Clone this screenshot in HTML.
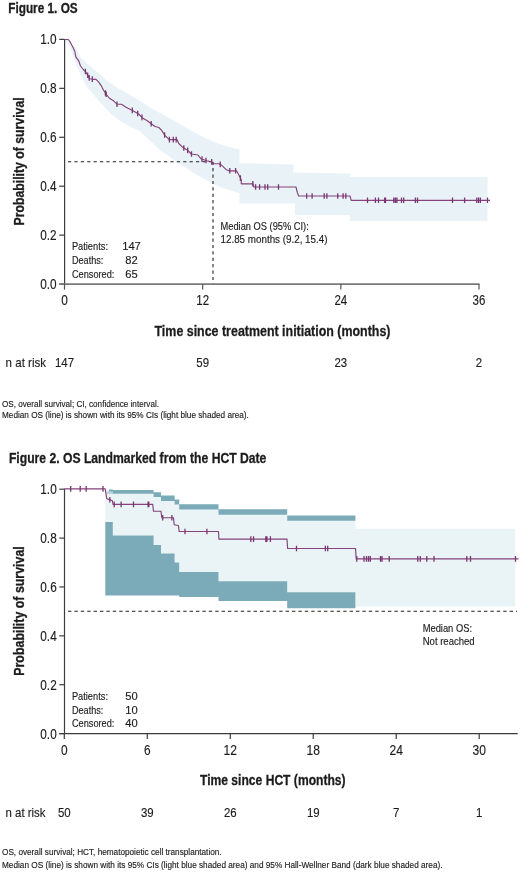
<!DOCTYPE html>
<html><head><meta charset="utf-8"><style>
html,body{margin:0;padding:0;background:#fff;width:520px;height:874px;overflow:hidden}
svg{display:block;will-change:transform}
</style></head><body>
<svg width="520" height="874" viewBox="0 0 520 874" font-family='"Liberation Sans", sans-serif'>
<rect width="520" height="874" fill="#fff"/>
<polygon points="64.5,39.5 69,40.5 75,47.5 80.5,57 88,64.5 95.5,70.5 106,80 117,87.5 129,94.6 140,101 150,107.5 162,114 174,120.6 188,129 205,138 222,145 239.5,149.5 239.5,163.2 293.5,164.5 293.5,172.5 350,173.5 350,177 487.5,177 487.5,221 350,221 350,215 295,215 295,203.5 239.5,203.5 239.5,193.3 222.7,188 214,184.5 205.4,179.4 195,174 184.6,167 176,161.5 167.3,155 160,150.5 153.5,144 146,137 139.6,131 128,125.5 118.8,120 112,115 105,107.5 98,100 91,91.5 87,87 81,76 75.5,63 69,45" fill="#e9f3f7"/>
<line x1="65" y1="161.7" x2="213" y2="161.7" stroke="#222" stroke-width="1.1" stroke-dasharray="3.2,3.2" stroke-dashoffset="-3"/>
<line x1="213" y1="161.7" x2="213" y2="284" stroke="#222" stroke-width="1.1" stroke-dasharray="3.2,3.2"/>
<polyline points="64.5,39.5 68.3,39.5 70.1,41.8 73,47.5 74.7,51 75.8,56.8 78.7,60.8 80.5,66 83.3,69.5 85.7,71.8 88,75.8 89.7,78.8 93.2,79.3 96,79.3 98.3,81.6 101.2,85.6 103.5,90.2 106.4,94.5 109.2,98 113,100.4 117,104.2 121.5,104.2 126,107.3 130,109.2 133.8,111.2 138.7,114 142.5,117.9 147.3,120.8 151.2,123.7 155,126.5 158.8,127.5 161.7,130.4 164.4,134.8 169.2,139.6 177,139.6 178.8,143.5 182.7,147.3 187.5,150.2 191.3,154 198,155 201,158.8 206.7,160.8 211.5,161.7 213.5,163.7 219.2,163.7 222,165.6 226,169.4 228.8,170.8 236.5,170.8 239.4,176 241.3,180 241.3,183.8 252.9,183.8 253.8,187 296,187 297.3,192.5 298.7,196 350,196 351.2,200.3 490,200.3" fill="none" stroke="#84437a" stroke-width="1.15" stroke-linejoin="round"/>
<path d="M85.4,68.71v5.6M87.7,72.48v5.6M89.2,75.12v5.6M92.3,76.37v5.6M105.4,90.22v5.6M106.2,91.4v5.6M117,101.4v5.6M132.3,107.61v5.6M137.7,110.63v5.6M142,114.59v5.6M151.2,120.9v5.6M164.6,132.2v5.6M169.4,136.8v5.6M173.3,136.8v5.6M176.2,136.8v5.6M183.8,145.16v5.6M187.7,147.6v5.6M191.5,151.23v5.6M202,156.35v5.6M206,157.75v5.6M211.7,159.1v5.6M220.2,161.58v5.6M229.8,168v5.6M235.6,168v5.6M240.4,175.31v5.6M252.9,181v5.6M255.6,184.2v5.6M259.6,184.2v5.6M265,184.2v5.6M267.7,184.2v5.6M278.5,184.2v5.6M306.7,193.2v5.6M312.1,193.2v5.6M324.2,193.2v5.6M326.9,193.2v5.6M337.7,193.2v5.6M343.1,193.2v5.6M345.8,193.2v5.6M367.5,197.5v5.6M375.4,197.5v5.6M378.5,197.5v5.6M384.6,197.5v5.6M385.5,197.5v5.6M393.8,197.5v5.6M395.4,197.5v5.6M396.9,197.5v5.6M401.5,197.5v5.6M403.7,197.5v5.6M415.4,197.5v5.6M417.5,197.5v5.6M452.5,197.5v5.6M464.6,197.5v5.6M476.8,197.5v5.6M478.6,197.5v5.6M480.4,197.5v5.6M487.5,197.5v5.6" stroke="#7a3672" stroke-width="1.3" fill="none"/>
<line x1="64.6" y1="39.4" x2="64.6" y2="284.1" stroke="#3c3c3c" stroke-width="1.2"/>
<line x1="59.2" y1="284.1" x2="64.6" y2="284.1" stroke="#3c3c3c" stroke-width="1.2"/>
<text x="56.6" y="289.1" font-size="14.5" stroke="#1c1c1c" stroke-width="0.15" text-anchor="end" textLength="16.4" lengthAdjust="spacingAndGlyphs" fill="#1c1c1c">0.0</text>
<line x1="59.2" y1="235.16" x2="64.6" y2="235.16" stroke="#3c3c3c" stroke-width="1.2"/>
<text x="56.6" y="240.16" font-size="14.5" stroke="#1c1c1c" stroke-width="0.15" text-anchor="end" textLength="16.4" lengthAdjust="spacingAndGlyphs" fill="#1c1c1c">0.2</text>
<line x1="59.2" y1="186.22" x2="64.6" y2="186.22" stroke="#3c3c3c" stroke-width="1.2"/>
<text x="56.6" y="191.22" font-size="14.5" stroke="#1c1c1c" stroke-width="0.15" text-anchor="end" textLength="16.4" lengthAdjust="spacingAndGlyphs" fill="#1c1c1c">0.4</text>
<line x1="59.2" y1="137.28" x2="64.6" y2="137.28" stroke="#3c3c3c" stroke-width="1.2"/>
<text x="56.6" y="142.28" font-size="14.5" stroke="#1c1c1c" stroke-width="0.15" text-anchor="end" textLength="16.4" lengthAdjust="spacingAndGlyphs" fill="#1c1c1c">0.6</text>
<line x1="59.2" y1="88.34" x2="64.6" y2="88.34" stroke="#3c3c3c" stroke-width="1.2"/>
<text x="56.6" y="93.34" font-size="14.5" stroke="#1c1c1c" stroke-width="0.15" text-anchor="end" textLength="16.4" lengthAdjust="spacingAndGlyphs" fill="#1c1c1c">0.8</text>
<line x1="59.2" y1="39.4" x2="64.6" y2="39.4" stroke="#3c3c3c" stroke-width="1.2"/>
<text x="56.6" y="44.4" font-size="14.5" stroke="#1c1c1c" stroke-width="0.15" text-anchor="end" textLength="16.4" lengthAdjust="spacingAndGlyphs" fill="#1c1c1c">1.0</text>
<line x1="59.2" y1="284.1" x2="479.4" y2="284.1" stroke="#7a7a7a" stroke-width="1.8"/>
<line x1="64.5" y1="284" x2="64.5" y2="289.6" stroke="#555" stroke-width="1.2"/>
<text x="64.5" y="305" font-size="14.8" stroke="#1c1c1c" stroke-width="0.15" text-anchor="middle" textLength="6.6" lengthAdjust="spacingAndGlyphs" fill="#1c1c1c">0</text>
<line x1="202.67" y1="284" x2="202.67" y2="289.6" stroke="#555" stroke-width="1.2"/>
<text x="202.67" y="305" font-size="14.8" stroke="#1c1c1c" stroke-width="0.15" text-anchor="middle" textLength="12.8" lengthAdjust="spacingAndGlyphs" fill="#1c1c1c">12</text>
<line x1="340.84" y1="284" x2="340.84" y2="289.6" stroke="#555" stroke-width="1.2"/>
<text x="340.84" y="305" font-size="14.8" stroke="#1c1c1c" stroke-width="0.15" text-anchor="middle" textLength="12.8" lengthAdjust="spacingAndGlyphs" fill="#1c1c1c">24</text>
<line x1="479" y1="284" x2="479" y2="289.6" stroke="#555" stroke-width="1.2"/>
<text x="479" y="305" font-size="14.8" stroke="#1c1c1c" stroke-width="0.15" text-anchor="middle" textLength="12.8" lengthAdjust="spacingAndGlyphs" fill="#1c1c1c">36</text>
<text x="8.2" y="13.1" font-size="14.5" font-weight="bold" stroke="#1c1c1c" stroke-width="0.3" textLength="69.5" lengthAdjust="spacingAndGlyphs" fill="#1c1c1c">Figure 1. OS</text>
<g transform="translate(23.7,161.4) rotate(-90)"><text x="0" y="0" font-size="14.6" font-weight="bold" stroke="#1c1c1c" stroke-width="0.3" text-anchor="middle" textLength="128" lengthAdjust="spacingAndGlyphs" fill="#1c1c1c">Probability of survival</text></g>
<text x="154.5" y="335.5" font-size="15.2" font-weight="bold" stroke="#1c1c1c" stroke-width="0.3" textLength="236" lengthAdjust="spacingAndGlyphs" fill="#1c1c1c">Time since treatment initiation (months)</text>
<text x="71.9" y="250.4" font-size="11.2" stroke="#1c1c1c" stroke-width="0.15" textLength="36.1" lengthAdjust="spacingAndGlyphs" fill="#1c1c1c">Patients:</text>
<text x="131.5" y="250.4" font-size="11.2" stroke="#1c1c1c" stroke-width="0.15" text-anchor="middle" fill="#1c1c1c">147</text>
<text x="71.9" y="264.1" font-size="11.2" stroke="#1c1c1c" stroke-width="0.15" textLength="31.5" lengthAdjust="spacingAndGlyphs" fill="#1c1c1c">Deaths:</text>
<text x="131.5" y="264.1" font-size="11.2" stroke="#1c1c1c" stroke-width="0.15" text-anchor="middle" fill="#1c1c1c">82</text>
<text x="71.9" y="277.8" font-size="11.2" stroke="#1c1c1c" stroke-width="0.15" textLength="42.5" lengthAdjust="spacingAndGlyphs" fill="#1c1c1c">Censored:</text>
<text x="131.5" y="277.8" font-size="11.2" stroke="#1c1c1c" stroke-width="0.15" text-anchor="middle" fill="#1c1c1c">65</text>
<text x="220.5" y="229.5" font-size="10.9" stroke="#1c1c1c" stroke-width="0.15" textLength="88.3" lengthAdjust="spacingAndGlyphs" fill="#1c1c1c">Median OS (95% CI):</text>
<text x="220.5" y="243.2" font-size="10.9" stroke="#1c1c1c" stroke-width="0.15" textLength="107" lengthAdjust="spacingAndGlyphs" fill="#1c1c1c">12.85 months (9.2, 15.4)</text>
<text x="5.6" y="366.9" font-size="12.8" stroke="#1c1c1c" stroke-width="0.15" textLength="40.4" lengthAdjust="spacingAndGlyphs" fill="#1c1c1c">n at risk</text>
<text x="64.5" y="367" font-size="13.3" stroke="#1c1c1c" stroke-width="0.15" text-anchor="middle" textLength="19.08" lengthAdjust="spacingAndGlyphs" fill="#1c1c1c">147</text>
<text x="202.67" y="367" font-size="13.3" stroke="#1c1c1c" stroke-width="0.15" text-anchor="middle" textLength="12.72" lengthAdjust="spacingAndGlyphs" fill="#1c1c1c">59</text>
<text x="340.84" y="367" font-size="13.3" stroke="#1c1c1c" stroke-width="0.15" text-anchor="middle" textLength="12.72" lengthAdjust="spacingAndGlyphs" fill="#1c1c1c">23</text>
<text x="479" y="367" font-size="13.3" stroke="#1c1c1c" stroke-width="0.15" text-anchor="middle" textLength="6.36" lengthAdjust="spacingAndGlyphs" fill="#1c1c1c">2</text>
<text x="2" y="406.5" font-size="9.3" stroke="#1c1c1c" stroke-width="0.15" textLength="157" lengthAdjust="spacingAndGlyphs" fill="#1c1c1c">OS, overall survival; CI, confidence interval.</text>
<text x="2" y="417.8" font-size="9.3" stroke="#1c1c1c" stroke-width="0.15" textLength="246.8" lengthAdjust="spacingAndGlyphs" fill="#1c1c1c">Median OS (line) is shown with its 95% CIs (light blue shaded area).</text>
<polygon points="105.3,490 112.8,490 112.8,493.8 153.6,493.8 153.6,497 161,497 161,500.9 174.6,500.9 174.6,504.5 179.2,504.5 179.2,509.6 218.5,509.6 218.5,514.8 287.2,514.8 287.2,520.8 355.4,520.8 355.4,528.7 515.2,528.7 515.2,606.6 355.4,606.6 355.4,592.3 287.2,592.3 287.2,581.2 218.5,581.2 218.5,572 179.2,572 179.2,562.5 174.6,562.5 174.6,553.6 161,553.6 161,545 153.6,545 153.6,535.6 112.8,535.6 112.8,522.1 105.3,522.1" fill="#eaf3f6"/>
<rect x="106.7" y="491.4" width="6.1" height="2.4" fill="#b5d2d9"/>
<path d="M109,489.4H112.8V491.6H109ZM112.8,490H153.6V493.8H112.8ZM153.6,492.2H161V497H153.6ZM161,495.5H174.6V500.9H161ZM174.6,499.5H179.2V504.5H174.6ZM179.2,504.2H218.5V509.6H179.2ZM218.5,509.2H287.2V514.8H218.5ZM287.2,515.6H355.4V520.8H287.2ZM105.3,522.1H112.8V595.6H105.3ZM112.8,535.6H153.6V595.6H112.8ZM153.6,545H161V595.6H153.6ZM161,553.6H174.6V595.6H161ZM174.6,562.5H179.2V595.6H174.6ZM179.2,572H218.5V597H179.2ZM218.5,581.2H287.2V601H218.5ZM287.2,592.3H355.4V608.3H287.2Z" fill="#7baab8"/>
<line x1="65" y1="611.3" x2="517" y2="611.3" stroke="#222" stroke-width="1.1" stroke-dasharray="3.4,3.0" stroke-dashoffset="-3"/>
<polyline points="64.3,488.9 105.2,488.9 105.8,492.7 106.1,494.1 106.7,498.7 109.5,499.6 112.4,500.7 113,504.4 152.7,504.4 153.5,511.2 161,511.2 161.8,517.7 173.5,517.7 174.2,524.7 178.4,525.5 179.2,531.5 218.5,531.5 218.9,539.1 287,539.1 287.6,548.5 355.5,548.5 356.2,558.9 518.5,558.9" fill="none" stroke="#84437a" stroke-width="1.15" stroke-linejoin="round"/>
<path d="M70.7,486.1v5.6M80.2,486.1v5.6M86.2,486.1v5.6M103,486.1v5.6M109.8,496.91v5.6M114.2,501.6v5.6M121.1,501.6v5.6M133.5,501.6v5.6M148.1,501.6v5.6M148.8,501.6v5.6M162.7,514.9v5.6M171.9,514.9v5.6M185,528.7v5.6M206.9,528.7v5.6M250.8,536.3v5.6M253.5,536.3v5.6M265.8,536.3v5.6M266.9,536.3v5.6M270.4,536.3v5.6M296.5,545.7v5.6M325.4,545.7v5.6M327.7,545.7v5.6M356.8,556.1v5.6M364,556.1v5.6M366.5,556.1v5.6M368.5,556.1v5.6M370.3,556.1v5.6M380.5,556.1v5.6M382,556.1v5.6M389.2,556.1v5.6M417.7,556.1v5.6M420.3,556.1v5.6M426.8,556.1v5.6M434,556.1v5.6M466.8,556.1v5.6M470.5,556.1v5.6M515.5,556.1v5.6" stroke="#7a3672" stroke-width="1.3" fill="none"/>
<line x1="64.5" y1="489.2" x2="64.5" y2="733.6" stroke="#3c3c3c" stroke-width="1.2"/>
<line x1="59.3" y1="733.6" x2="64.5" y2="733.6" stroke="#3c3c3c" stroke-width="1.2"/>
<text x="56.7" y="738.6" font-size="14.5" stroke="#1c1c1c" stroke-width="0.15" text-anchor="end" textLength="16.4" lengthAdjust="spacingAndGlyphs" fill="#1c1c1c">0.0</text>
<line x1="59.3" y1="684.72" x2="64.5" y2="684.72" stroke="#3c3c3c" stroke-width="1.2"/>
<text x="56.7" y="689.72" font-size="14.5" stroke="#1c1c1c" stroke-width="0.15" text-anchor="end" textLength="16.4" lengthAdjust="spacingAndGlyphs" fill="#1c1c1c">0.2</text>
<line x1="59.3" y1="635.84" x2="64.5" y2="635.84" stroke="#3c3c3c" stroke-width="1.2"/>
<text x="56.7" y="640.84" font-size="14.5" stroke="#1c1c1c" stroke-width="0.15" text-anchor="end" textLength="16.4" lengthAdjust="spacingAndGlyphs" fill="#1c1c1c">0.4</text>
<line x1="59.3" y1="586.96" x2="64.5" y2="586.96" stroke="#3c3c3c" stroke-width="1.2"/>
<text x="56.7" y="591.96" font-size="14.5" stroke="#1c1c1c" stroke-width="0.15" text-anchor="end" textLength="16.4" lengthAdjust="spacingAndGlyphs" fill="#1c1c1c">0.6</text>
<line x1="59.3" y1="538.08" x2="64.5" y2="538.08" stroke="#3c3c3c" stroke-width="1.2"/>
<text x="56.7" y="543.08" font-size="14.5" stroke="#1c1c1c" stroke-width="0.15" text-anchor="end" textLength="16.4" lengthAdjust="spacingAndGlyphs" fill="#1c1c1c">0.8</text>
<line x1="59.3" y1="489.2" x2="64.5" y2="489.2" stroke="#3c3c3c" stroke-width="1.2"/>
<text x="56.7" y="494.2" font-size="14.5" stroke="#1c1c1c" stroke-width="0.15" text-anchor="end" textLength="16.4" lengthAdjust="spacingAndGlyphs" fill="#1c1c1c">1.0</text>
<line x1="59.3" y1="733.6" x2="517.7" y2="733.6" stroke="#3c3c3c" stroke-width="1.2"/>
<line x1="64.3" y1="733.6" x2="64.3" y2="739" stroke="#3c3c3c" stroke-width="1.2"/>
<text x="64.3" y="754.5" font-size="14.8" stroke="#1c1c1c" stroke-width="0.15" text-anchor="middle" textLength="6.6" lengthAdjust="spacingAndGlyphs" fill="#1c1c1c">0</text>
<line x1="147.28" y1="733.6" x2="147.28" y2="739" stroke="#3c3c3c" stroke-width="1.2"/>
<text x="147.28" y="754.5" font-size="14.8" stroke="#1c1c1c" stroke-width="0.15" text-anchor="middle" textLength="6.6" lengthAdjust="spacingAndGlyphs" fill="#1c1c1c">6</text>
<line x1="230.26" y1="733.6" x2="230.26" y2="739" stroke="#3c3c3c" stroke-width="1.2"/>
<text x="230.26" y="754.5" font-size="14.8" stroke="#1c1c1c" stroke-width="0.15" text-anchor="middle" textLength="13.4" lengthAdjust="spacingAndGlyphs" fill="#1c1c1c">12</text>
<line x1="313.24" y1="733.6" x2="313.24" y2="739" stroke="#3c3c3c" stroke-width="1.2"/>
<text x="313.24" y="754.5" font-size="14.8" stroke="#1c1c1c" stroke-width="0.15" text-anchor="middle" textLength="13.4" lengthAdjust="spacingAndGlyphs" fill="#1c1c1c">18</text>
<line x1="396.22" y1="733.6" x2="396.22" y2="739" stroke="#3c3c3c" stroke-width="1.2"/>
<text x="396.22" y="754.5" font-size="14.8" stroke="#1c1c1c" stroke-width="0.15" text-anchor="middle" textLength="13.4" lengthAdjust="spacingAndGlyphs" fill="#1c1c1c">24</text>
<line x1="479.2" y1="733.6" x2="479.2" y2="739" stroke="#3c3c3c" stroke-width="1.2"/>
<text x="479.2" y="754.5" font-size="14.8" stroke="#1c1c1c" stroke-width="0.15" text-anchor="middle" textLength="13.4" lengthAdjust="spacingAndGlyphs" fill="#1c1c1c">30</text>
<text x="8.9" y="463.3" font-size="14.5" font-weight="bold" stroke="#1c1c1c" stroke-width="0.3" textLength="257.5" lengthAdjust="spacingAndGlyphs" fill="#1c1c1c">Figure 2. OS Landmarked from the HCT Date</text>
<g transform="translate(23.7,611) rotate(-90)"><text x="0" y="0" font-size="14.6" font-weight="bold" stroke="#1c1c1c" stroke-width="0.3" text-anchor="middle" textLength="129.5" lengthAdjust="spacingAndGlyphs" fill="#1c1c1c">Probability of survival</text></g>
<text x="200" y="785.2" font-size="15.2" font-weight="bold" stroke="#1c1c1c" stroke-width="0.3" textLength="145.6" lengthAdjust="spacingAndGlyphs" fill="#1c1c1c">Time since HCT (months)</text>
<text x="71.9" y="700" font-size="11.2" stroke="#1c1c1c" stroke-width="0.15" textLength="36.1" lengthAdjust="spacingAndGlyphs" fill="#1c1c1c">Patients:</text>
<text x="131.4" y="700" font-size="11.2" stroke="#1c1c1c" stroke-width="0.15" text-anchor="middle" fill="#1c1c1c">50</text>
<text x="71.9" y="713.7" font-size="11.2" stroke="#1c1c1c" stroke-width="0.15" textLength="31.5" lengthAdjust="spacingAndGlyphs" fill="#1c1c1c">Deaths:</text>
<text x="131.4" y="713.7" font-size="11.2" stroke="#1c1c1c" stroke-width="0.15" text-anchor="middle" fill="#1c1c1c">10</text>
<text x="71.9" y="727.4" font-size="11.2" stroke="#1c1c1c" stroke-width="0.15" textLength="42.5" lengthAdjust="spacingAndGlyphs" fill="#1c1c1c">Censored:</text>
<text x="131.4" y="727.4" font-size="11.2" stroke="#1c1c1c" stroke-width="0.15" text-anchor="middle" fill="#1c1c1c">40</text>
<text x="422.7" y="631.7" font-size="10.9" stroke="#1c1c1c" stroke-width="0.15" textLength="49.3" lengthAdjust="spacingAndGlyphs" fill="#1c1c1c">Median OS:</text>
<text x="422.7" y="645.2" font-size="10.9" stroke="#1c1c1c" stroke-width="0.15" textLength="52" lengthAdjust="spacingAndGlyphs" fill="#1c1c1c">Not reached</text>
<text x="5.5" y="816.5" font-size="12.8" stroke="#1c1c1c" stroke-width="0.15" textLength="40" lengthAdjust="spacingAndGlyphs" fill="#1c1c1c">n at risk</text>
<text x="64.3" y="816.6" font-size="13.3" stroke="#1c1c1c" stroke-width="0.15" text-anchor="middle" textLength="12.72" lengthAdjust="spacingAndGlyphs" fill="#1c1c1c">50</text>
<text x="147.28" y="816.6" font-size="13.3" stroke="#1c1c1c" stroke-width="0.15" text-anchor="middle" textLength="12.72" lengthAdjust="spacingAndGlyphs" fill="#1c1c1c">39</text>
<text x="230.26" y="816.6" font-size="13.3" stroke="#1c1c1c" stroke-width="0.15" text-anchor="middle" textLength="12.72" lengthAdjust="spacingAndGlyphs" fill="#1c1c1c">26</text>
<text x="313.24" y="816.6" font-size="13.3" stroke="#1c1c1c" stroke-width="0.15" text-anchor="middle" textLength="12.72" lengthAdjust="spacingAndGlyphs" fill="#1c1c1c">19</text>
<text x="396.22" y="816.6" font-size="13.3" stroke="#1c1c1c" stroke-width="0.15" text-anchor="middle" textLength="6.36" lengthAdjust="spacingAndGlyphs" fill="#1c1c1c">7</text>
<text x="479.2" y="816.6" font-size="13.3" stroke="#1c1c1c" stroke-width="0.15" text-anchor="middle" textLength="6.36" lengthAdjust="spacingAndGlyphs" fill="#1c1c1c">1</text>
<text x="2" y="855.3" font-size="9.3" stroke="#1c1c1c" stroke-width="0.15" textLength="219.6" lengthAdjust="spacingAndGlyphs" fill="#1c1c1c">OS, overall survival; HCT, hematopoietic cell transplantation.</text>
<text x="2" y="867.6" font-size="9.3" stroke="#1c1c1c" stroke-width="0.15" textLength="440.5" lengthAdjust="spacingAndGlyphs" fill="#1c1c1c">Median OS (line) is shown with its 95% CIs (light blue shaded area) and 95% Hall-Wellner Band (dark blue shaded area).</text>
</svg>
</body></html>
